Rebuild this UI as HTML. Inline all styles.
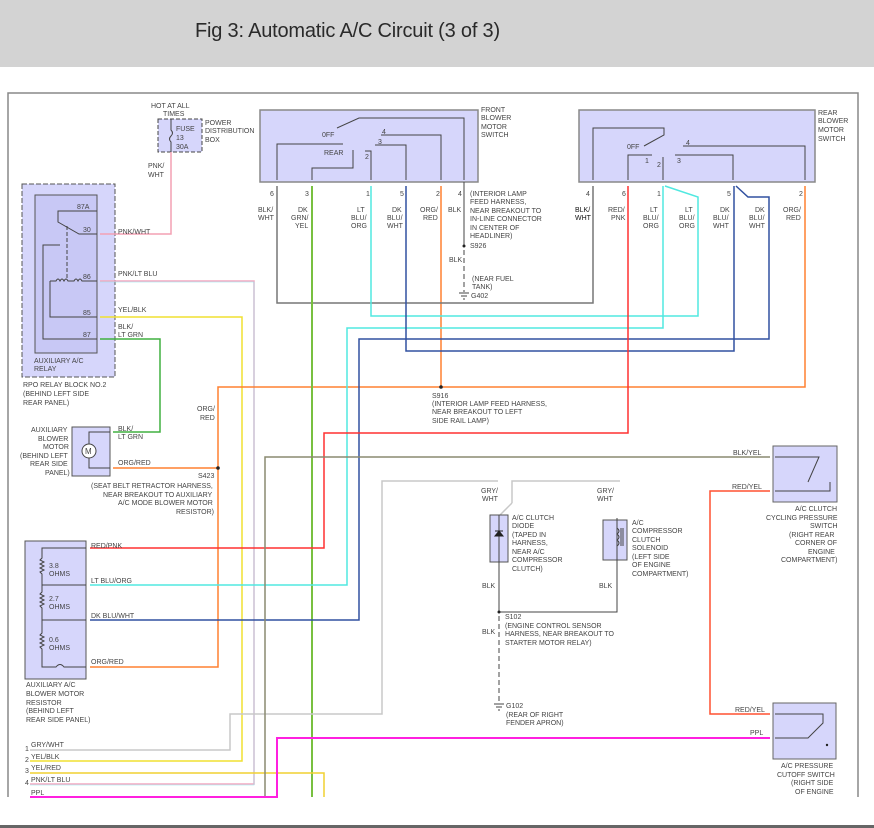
<!DOCTYPE html>
<html><head><meta charset="utf-8"><style>
body{margin:0;background:#fff;width:874px;height:828px;overflow:hidden}
.hdr{position:absolute;left:0;top:0;width:874px;height:67px;background:#d3d3d3}
.hdr span{position:absolute;left:195px;top:20px;font:20px "Liberation Sans",sans-serif;color:#2a2a2a;letter-spacing:-0.2px}
svg{position:absolute;left:0;top:0}
text{font-family:"Liberation Sans",sans-serif;font-size:7px;fill:#444}
</style></head><body>
<div class="hdr"><span>Fig 3: Automatic A/C Circuit (3 of 3)</span></div>
<svg width="874" height="828" viewBox="0 0 874 828">
<path d="M8,797 V93 H858 V797" fill="none" stroke="#888" stroke-width="1.5"/>
<rect x="0" y="825" width="874" height="3" fill="#666"/>

<rect x="158" y="119" width="44" height="33" fill="#d6d6fb" stroke="#444" stroke-dasharray="4,2"/>
<path d="M171,119 V130 q3,3 0,6 q-3,3 0,6 V152" fill="none" stroke="#444"/>
<text x="151" y="108">HOT AT ALL</text><text x="163" y="116">TIMES</text>
<text x="176" y="131">FUSE</text><text x="176" y="140">13</text><text x="176" y="149">30A</text>
<text x="205" y="125">POWER</text><text x="205" y="133">DISTRIBUTION</text><text x="205" y="142">BOX</text>
<text x="148" y="168">PNK/</text><text x="148" y="177">WHT</text>

<rect x="22" y="184" width="93" height="193" fill="#d6d6fb" stroke="#555" stroke-dasharray="5,2"/>
<rect x="35" y="195" width="62" height="158" fill="#c8c8f5" stroke="#555"/>
<g stroke="#444" fill="none">
<path d="M97,211 H58 V222 L79,234 H97"/><path d="M67,226 V279" stroke-dasharray="4,2"/>
<path d="M60,245 H43 V339 H97"/><path d="M50,281 V317 H97"/><path d="M50,281 h6 q2,-4 4,0 q2,-4 4,0 q2,-4 4,0 h6 q2,-4 4,0 q2,-4 4,0 H97"/>
</g>
<text x="77" y="209">87A</text><text x="83" y="232">30</text><text x="83" y="279">86</text><text x="83" y="315">85</text><text x="83" y="337">87</text>
<text x="34" y="363">AUXILIARY A/C</text><text x="34" y="371">RELAY</text>
<text x="23" y="387">RPO RELAY BLOCK NO.2</text><text x="23" y="396">(BEHIND LEFT SIDE</text><text x="23" y="405">REAR PANEL)</text>

<rect x="260" y="110" width="218" height="72" fill="#d6d6fb" stroke="#888" stroke-width="1.5"/>
<g stroke="#444" fill="none">
<path d="M277,180 V144 H343"/><path d="M337,128 L359,118 H464 V180"/><path d="M381,135 H441 V180"/><path d="M375,145 H406 V180"/><path d="M365,151 H371 V180"/><path d="M353,150 V168 H312 V180"/>
</g>
<text x="322" y="137">0FF</text><text x="324" y="155">REAR</text><text x="382" y="134">4</text><text x="378" y="144">3</text><text x="365" y="159">2</text>
<text x="481" y="112">FRONT</text><text x="481" y="120">BLOWER</text><text x="481" y="129">MOTOR</text><text x="481" y="137">SWITCH</text>
<text x="270" y="196">6</text><text x="305" y="196">3</text><text x="366" y="196">1</text><text x="400" y="196">5</text><text x="436" y="196">2</text><text x="458" y="196">4</text>
<text x="258" y="212">BLK/</text><text x="258" y="220">WHT</text>
<text x="298" y="212">DK</text><text x="291" y="220">GRN/</text><text x="295" y="228">YEL</text>
<text x="357" y="212">LT</text><text x="351" y="220">BLU/</text><text x="351" y="228">ORG</text>
<text x="392" y="212">DK</text><text x="387" y="220">BLU/</text><text x="387" y="228">WHT</text>
<text x="420" y="212">ORG/</text><text x="423" y="220">RED</text><text x="448" y="212">BLK</text>
<text x="470" y="196">(INTERIOR LAMP</text><text x="470" y="204">FEED HARNESS,</text><text x="470" y="213">NEAR BREAKOUT TO</text><text x="470" y="221">IN-LINE CONNECTOR</text><text x="470" y="230">IN CENTER OF</text><text x="470" y="238">HEADLINER)</text>
<text x="470" y="248">S926</text><text x="449" y="262">BLK</text><text x="472" y="281">(NEAR FUEL</text><text x="472" y="289">TANK)</text><text x="471" y="298">G402</text>
<path d="M464,182 V245" stroke="#444"/><circle cx="464" cy="246" r="1.5" fill="#222"/>
<path d="M464,250 V292" stroke="#444" stroke-dasharray="5,3"/>
<path d="M459,293 h10 M461,296 h6 M463,299 h2" stroke="#444"/>

<rect x="579" y="110" width="236" height="72" fill="#d6d6fb" stroke="#888" stroke-width="1.5"/>
<g stroke="#444" fill="none">
<path d="M593,180 V128 H664 V135 L644,146"/><path d="M652,155 H628 V180"/><path d="M663,157 V180"/><path d="M675,155 H733 V180"/><path d="M683,146 H805 V180"/>
</g>
<text x="627" y="149">0FF</text><text x="645" y="163">1</text><text x="657" y="167">2</text><text x="677" y="163">3</text><text x="686" y="145">4</text>
<text x="818" y="115">REAR</text><text x="818" y="123">BLOWER</text><text x="818" y="132">MOTOR</text><text x="818" y="141">SWITCH</text>
<text x="586" y="196">4</text><text x="622" y="196">6</text><text x="657" y="196">1</text><text x="727" y="196">5</text><text x="799" y="196">2</text>
<text x="575" y="212" style="fill:#111">BLK/</text><text x="575" y="220" style="fill:#111">WHT</text>
<text x="608" y="212">RED/</text><text x="611" y="220">PNK</text>
<text x="650" y="212">LT</text><text x="643" y="220">BLU/</text><text x="643" y="228">ORG</text>
<text x="685" y="212">LT</text><text x="679" y="220">BLU/</text><text x="679" y="228">ORG</text>
<text x="720" y="212">DK</text><text x="713" y="220">BLU/</text><text x="713" y="228">WHT</text>
<text x="755" y="212">DK</text><text x="749" y="220">BLU/</text><text x="749" y="228">WHT</text>
<text x="783" y="212">ORG/</text><text x="786" y="220">RED</text>

<g fill="none" stroke-width="1.5">
<path d="M100,234 H171 V152" stroke="#f4a0b4"/>
<path d="M100,281 H254 V784 H30" stroke="#f4a8c0"/>
<path d="M100,281 H254 V784 H30" stroke="#8ee8f0" stroke-width="0.6" transform="translate(0,1)"/>
<path d="M100,317 H242 V761 H30" stroke="#f0e030"/>
<path d="M100,339 H160 V432 H113" stroke="#40b040"/>
<path d="M113,468 H218 V387 H805 V186" stroke="#ff8030"/>
<path d="M218,468 V667 H90" stroke="#ff8030"/>
<path d="M441,186 V387" stroke="#ff8030"/>
<path d="M277,186 V303 H593 V186" stroke="#777"/>
<path d="M312,186 V797" stroke="#78c040" stroke-width="2"/>
<path d="M371,186 V316 H698 V197 L665,186" stroke="#50e8e0"/>
<path d="M663,186 V328 H347 V585 H90" stroke="#50e8e0"/>
<path d="M406,186 V351 H734 V186" stroke="#3050a0"/>
<path d="M736,186 L748,197 H769 V339 H359 V620 H90" stroke="#3050a0"/>
<path d="M628,186 V433 H324 V548 H90" stroke="#ff3030"/>
<path d="M30,773 H324 V797" stroke="#f0d030"/>
<path d="M30,750 H230 V714 H382 V481 H498" stroke="#c8c8c8"/>
<path d="M512,503 V481 H620" stroke="#c8c8c8"/>
<path d="M512,503 L500,515" stroke="#c8c8c8"/>
<path d="M265,797 V457 H770" stroke="#8a8a70"/>
<path d="M770,491 H710 V714 H770" stroke="#ff5030"/>
<path d="M30,797 H277 V738 H770" stroke="#ff20e0" stroke-width="2"/>
</g>
<circle cx="441" cy="387" r="1.8" fill="#222"/><circle cx="218" cy="468" r="1.8" fill="#222"/>
<text x="432" y="398">S916</text><text x="432" y="406">(INTERIOR LAMP FEED HARNESS,</text><text x="432" y="414">NEAR BREAKOUT TO LEFT</text><text x="432" y="423">SIDE RAIL LAMP)</text>
<text x="197" y="411">ORG/</text><text x="200" y="420">RED</text>
<text x="118" y="234">PNK/WHT</text><text x="118" y="276">PNK/LT BLU</text><text x="118" y="312">YEL/BLK</text><text x="118" y="329">BLK/</text><text x="118" y="337">LT GRN</text>

<rect x="72" y="427" width="38" height="49" fill="#d6d6fb" stroke="#555"/>
<circle cx="89" cy="451" r="7" fill="#fff" stroke="#444"/><text x="85" y="454" style="font-size:8px">M</text>
<path d="M89,444 V432 H110 M89,458 V468 H110" stroke="#444" fill="none"/>
<text x="31" y="432">AUXILIARY</text><text x="38" y="441">BLOWER</text><text x="43" y="449">MOTOR</text><text x="20" y="458">(BEHIND LEFT</text><text x="30" y="466">REAR SIDE</text><text x="45" y="475">PANEL)</text>
<text x="118" y="431">BLK/</text><text x="118" y="439">LT GRN</text><text x="118" y="465">ORG/RED</text>
<text x="198" y="478">S423</text><text x="91" y="488">(SEAT BELT RETRACTOR HARNESS,</text><text x="103" y="497">NEAR BREAKOUT TO AUXILIARY</text><text x="118" y="505">A/C MODE BLOWER MOTOR</text><text x="176" y="514">RESISTOR)</text>

<rect x="25" y="541" width="61" height="138" fill="#d6d6fb" stroke="#555"/>
<g stroke="#444" fill="none">
<path d="M86,548 H42 V558 l-2,2 4,2 -4,2 4,2 -4,2 4,2 -4,2 2,2 V585 H86"/>
<path d="M42,585 V592 l-2,2 4,2 -4,2 4,2 -4,2 4,2 -4,2 2,2 V620 H86"/>
<path d="M42,620 V633 l-2,2 4,2 -4,2 4,2 -4,2 4,2 -4,2 2,2 V667 H56 q4,-5 8,0 H86"/>
</g>
<text x="49" y="568">3.8</text><text x="49" y="576">OHMS</text><text x="49" y="601">2.7</text><text x="49" y="609">OHMS</text><text x="49" y="642">0.6</text><text x="49" y="650">OHMS</text>
<text x="91" y="548">RED/PNK</text><text x="91" y="583">LT BLU/ORG</text><text x="91" y="618">DK BLU/WHT</text><text x="91" y="664">ORG/RED</text>
<text x="26" y="687">AUXILIARY A/C</text><text x="26" y="696">BLOWER MOTOR</text><text x="26" y="705">RESISTOR</text><text x="26" y="713">(BEHIND LEFT</text><text x="26" y="722">REAR SIDE PANEL)</text>
<text x="25" y="751">1</text><text x="31" y="747">GRY/WHT</text><text x="25" y="762">2</text><text x="31" y="759">YEL/BLK</text><text x="25" y="773">3</text><text x="31" y="770">YEL/RED</text><text x="25" y="785">4</text><text x="31" y="782">PNK/LT BLU</text><text x="31" y="795">PPL</text>

<rect x="490" y="515" width="18" height="47" fill="#d6d6fb" stroke="#555"/>
<path d="M499,515 V612" stroke="#444"/><path d="M495,536 h8 l-4,-5 z M495,531 h8" stroke="#222" fill="#222"/>
<rect x="603" y="520" width="24" height="40" fill="#d6d6fb" stroke="#555"/>
<path d="M617,518 V562 V612 H499" stroke="#444" fill="none"/>
<path d="M617,528 q4,3 0,6 q4,3 0,6 q4,3 0,6" stroke="#444" fill="none"/><path d="M621,528 v18 M623,528 v18" stroke="#444"/>
<circle cx="499" cy="612" r="1.5" fill="#222"/>
<path d="M499,616 V703" stroke="#444" stroke-dasharray="5,3"/><path d="M494,704 h10 M496,707 h6 M498,710 h2" stroke="#444"/>
<text x="481" y="493">GRY/</text><text x="482" y="501">WHT</text><text x="597" y="493">GRY/</text><text x="597" y="501">WHT</text>
<text x="512" y="520">A/C CLUTCH</text><text x="512" y="528">DIODE</text><text x="512" y="537">(TAPED IN</text><text x="512" y="545">HARNESS,</text><text x="512" y="554">NEAR A/C</text><text x="512" y="562">COMPRESSOR</text><text x="512" y="571">CLUTCH)</text>
<text x="632" y="525">A/C</text><text x="632" y="533">COMPRESSOR</text><text x="632" y="542">CLUTCH</text><text x="632" y="550">SOLENOID</text><text x="632" y="559">(LEFT SIDE</text><text x="632" y="567">OF ENGINE</text><text x="632" y="576">COMPARTMENT)</text>
<text x="482" y="588">BLK</text><text x="599" y="588">BLK</text><text x="482" y="634">BLK</text>
<text x="505" y="619">S102</text><text x="505" y="628">(ENGINE CONTROL SENSOR</text><text x="505" y="636">HARNESS, NEAR BREAKOUT TO</text><text x="505" y="645">STARTER MOTOR RELAY)</text>
<text x="506" y="708">G102</text><text x="506" y="717">(REAR OF RIGHT</text><text x="506" y="725">FENDER APRON)</text>

<rect x="773" y="446" width="64" height="56" fill="#d6d6fb" stroke="#666"/>
<g stroke="#444" fill="none"><path d="M775,457 H819 L808,482"/><path d="M775,491 H830 V482"/></g>
<text x="733" y="455">BLK/YEL</text><text x="732" y="489">RED/YEL</text>
<text x="795" y="511">A/C CLUTCH</text><text x="766" y="520">CYCLING PRESSURE</text><text x="810" y="528">SWITCH</text><text x="789" y="537">(RIGHT REAR</text><text x="795" y="545">CORNER OF</text><text x="808" y="554">ENGINE</text><text x="781" y="562">COMPARTMENT)</text>

<rect x="773" y="703" width="63" height="56" fill="#d6d6fb" stroke="#666"/>
<g stroke="#444" fill="none"><path d="M775,714 H823 V723 L808,738 H775"/></g>
<circle cx="827" cy="745" r="1.2" fill="#222"/>
<text x="735" y="712">RED/YEL</text><text x="750" y="735">PPL</text>
<text x="781" y="768">A/C PRESSURE</text><text x="777" y="777">CUTOFF SWITCH</text><text x="791" y="785">(RIGHT SIDE</text><text x="795" y="794">OF ENGINE</text>
</svg>
</body></html>
